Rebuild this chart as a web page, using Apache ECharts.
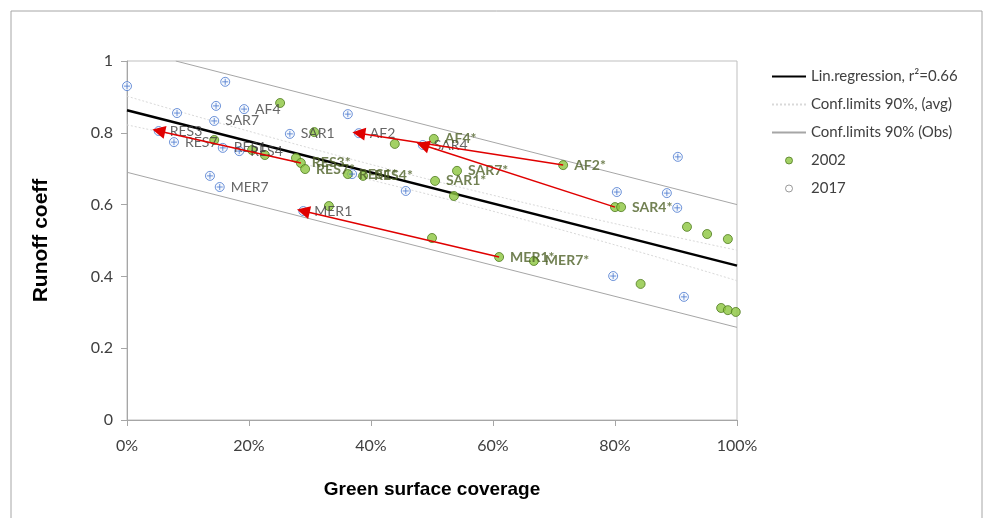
<!DOCTYPE html>
<html>
<head>
<meta charset="utf-8">
<script src="https://cdn.jsdelivr.net/npm/echarts@6/dist/echarts.min.js"></script>
<style>
html,body{margin:0;padding:0;background:#fff}
#main{width:986px;height:518px}
</style>
</head>
<body>
<div id="main"></div>
<script>
// green surface coverage (%) and runoff coefficient per site
var cover2017=[0,16.1,8.2,14.6,19.2,14.3,26.7,36.2,38.0,5.2,7.7,15.7,18.4,13.6,15.2,28.9,36.9,45.7,48.5,80.3,88.5,90.2,90.3,79.7,91.3];
var runoff2017=[0.930,0.942,0.855,0.875,0.866,0.833,0.797,0.852,0.799,0.805,0.774,0.758,0.749,0.680,0.649,0.582,0.685,0.638,0.766,0.635,0.632,0.591,0.733,0.401,0.343];
var names2017=['','','','','AF4','SAR7','SAR1','','AF2','RES3','RES7','RES1','RES4','','MER7','MER1','','','SAR4','','','','','',''];

var cover2002=[25.1,30.7,43.9,50.3,14.3,20.5,22.6,27.7,28.5,29.2,36.2,38.7,54.1,50.5,53.6,71.5,80.0,81.0,33.1,50.0,61.0,66.7,91.8,95.1,98.5,84.2,97.4,98.5,99.8];
var runoff2002=[0.883,0.802,0.769,0.783,0.780,0.752,0.738,0.730,0.716,0.699,0.685,0.680,0.694,0.666,0.624,0.710,0.593,0.593,0.596,0.507,0.454,0.443,0.538,0.518,0.504,0.379,0.312,0.306,0.301];
var names2002=['','','','AF4*','','','','','RES3*','RES7*','RES1*','RES4*','SAR7*','SAR1*','','AF2*','','SAR4*','','','MER1*','MER7*','','','','','','',''];

// arrows: index in 2002 -> index in 2017
var arrowFrom=[8,15,16,20];
var arrowTo=[9,8,18,15];

// regression and confidence lines
var regX=[0,100];
var regY=[0.863,0.430];
var avgX=[0,50,100];
var avgUp=[0.902,0.668,0.473];
var avgLo=[0.822,0.626,0.388];
var obsUpX=[8,100];
var obsUp=[1.0,0.600];
var obsLoX=[0,100];
var obsLo=[0.690,0.258];

function pts(xs,ys,names){
    var out=[];
    for(var i=0;i<xs.length;i++){
        out.push({value:[xs[i],ys[i]],name:names?names[i]:''});
    }
    return out;
}

var arrows=[];
for(var i=0;i<arrowFrom.length;i++){
    arrows.push([
        {coord:[cover2002[arrowFrom[i]],runoff2002[arrowFrom[i]]]},
        {coord:[cover2017[arrowTo[i]],runoff2017[arrowTo[i]]]}
    ]);
}

var txt='#404040';
var font='Lato, "Open Sans", sans-serif';
var titleFont='"Liberation Sans", Arial, sans-serif';

var myChart=echarts.init(document.getElementById('main'));

// legend entry for a plain line (hide the symbol dot)
function lineItem(n){
    return {name:n,itemStyle:{opacity:0}};
}

var option={
    animation:false,
    backgroundColor:'#fff',
    graphic:[{
        type:'rect',
        shape:{x:11,y:11,width:971,height:530},
        style:{fill:'none',stroke:'#a6a6a6',lineWidth:1},
        silent:true
    }],
    grid:{
        left:127,right:249,top:61,bottom:98,
        show:true,borderColor:'#bfbfbf',borderWidth:1
    },
    legend:{
        orient:'vertical',
        left:766,top:64,
        itemWidth:34,itemHeight:7,itemGap:13,
        textStyle:{color:txt,fontSize:15,fontFamily:font},
        data:[
            lineItem('Lin.regression, r²=0.66'),
            lineItem('Conf.limits 90%, (avg)'),
            lineItem('Conf.limits 90% (Obs)'),
            {name:'2002',itemStyle:{color:'#8cc63f',borderColor:'#4f7a1e',borderWidth:1}},
            {name:'2017',itemStyle:{color:'#fff',borderColor:'#808080',borderWidth:1}}
        ]
    },
    xAxis:{
        type:'value',min:0,max:100,interval:20,
        name:'Green surface coverage',
        nameLocation:'middle',nameGap:60,
        nameTextStyle:{color:'#000',fontSize:19,fontWeight:'bold',fontFamily:titleFont},
        axisLine:{lineStyle:{color:'#a6a6a6'}},
        axisTick:{show:true,length:6,lineStyle:{color:'#a6a6a6'}},
        axisLabel:{color:txt,fontSize:16,fontFamily:font,margin:18,formatter:'{value}%'},
        splitLine:{show:false}
    },
    yAxis:{
        type:'value',min:0,max:1,interval:0.2,
        name:'Runoff coeff',
        nameLocation:'middle',nameGap:75,
        nameTextStyle:{color:'#000',fontSize:21,fontWeight:'bold',fontFamily:titleFont},
        axisLine:{show:true,lineStyle:{color:'#a6a6a6'}},
        axisTick:{show:true,length:6,lineStyle:{color:'#a6a6a6'}},
        axisLabel:{color:txt,fontSize:16,fontFamily:font,margin:14},
        splitLine:{show:false}
    },
    series:[
        {
            name:'Conf.limits 90% (Obs)',type:'line',symbol:'none',
            lineStyle:{color:'#a6a6a6',width:1},
            data:obsUpX.map(function(x,i){return [x,obsUp[i]];}),
            z:1
        },
        {
            name:'Conf.limits 90% (Obs)',type:'line',symbol:'none',
            lineStyle:{color:'#a6a6a6',width:1},
            data:obsLoX.map(function(x,i){return [x,obsLo[i]];}),
            z:1
        },
        {
            name:'Conf.limits 90%, (avg)',type:'line',symbol:'none',smooth:true,
            lineStyle:{color:'#d9d9d9',width:1,type:[2,2]},
            data:avgX.map(function(x,i){return [x,avgUp[i]];}),
            z:1
        },
        {
            name:'Conf.limits 90%, (avg)',type:'line',symbol:'none',smooth:true,
            lineStyle:{color:'#d9d9d9',width:1,type:[2,2]},
            data:avgX.map(function(x,i){return [x,avgLo[i]];}),
            z:1
        },
        {
            name:'Lin.regression, r²=0.66',type:'line',symbol:'none',
            lineStyle:{color:'#000',width:2.5},
            data:regX.map(function(x,i){return [x,regY[i]];}),
            z:2
        },
        {
            name:'2017',type:'scatter',symbol:'circle',symbolSize:9,
            itemStyle:{color:'#f4f7fd',borderColor:'#4a78cf',borderWidth:1},
            label:{
                show:true,position:'right',distance:6,
                color:txt,fontSize:14,fontFamily:font,
                formatter:function(p){return p.data.name;}
            },
            data:pts(cover2017,runoff2017,names2017),
            z:3
        },
        {
            name:'2017 cross',type:'scatter',symbol:'path://M0 5H10M5 0V10',symbolSize:6,
            itemStyle:{color:'transparent',borderColor:'#4a78cf',borderWidth:1},
            data:pts(cover2017,runoff2017),
            silent:true,
            z:4
        },
        {
            name:'2002',type:'scatter',symbol:'circle',symbolSize:9,
            itemStyle:{color:'#8cc63f',borderColor:'#4f7a1e',borderWidth:1},
            label:{
                show:true,position:'right',distance:6,
                color:'#4f6228',fontSize:14,fontWeight:'bold',fontFamily:font,
                formatter:function(p){return p.data.name;}
            },
            data:pts(cover2002,runoff2002,names2002),
            z:3
        },
        {
            name:'arrows',type:'scatter',data:[],
            markLine:{
                silent:true,
                symbol:['none','triangle'],
                symbolSize:13,
                label:{show:false},
                itemStyle:{color:'#d00000'},
                lineStyle:{color:'#e00000',width:1.5,type:'solid'},
                data:arrows
            },
            z:5
        }
    ]
};
myChart.setOption(option);
</script>
</body>
</html>
